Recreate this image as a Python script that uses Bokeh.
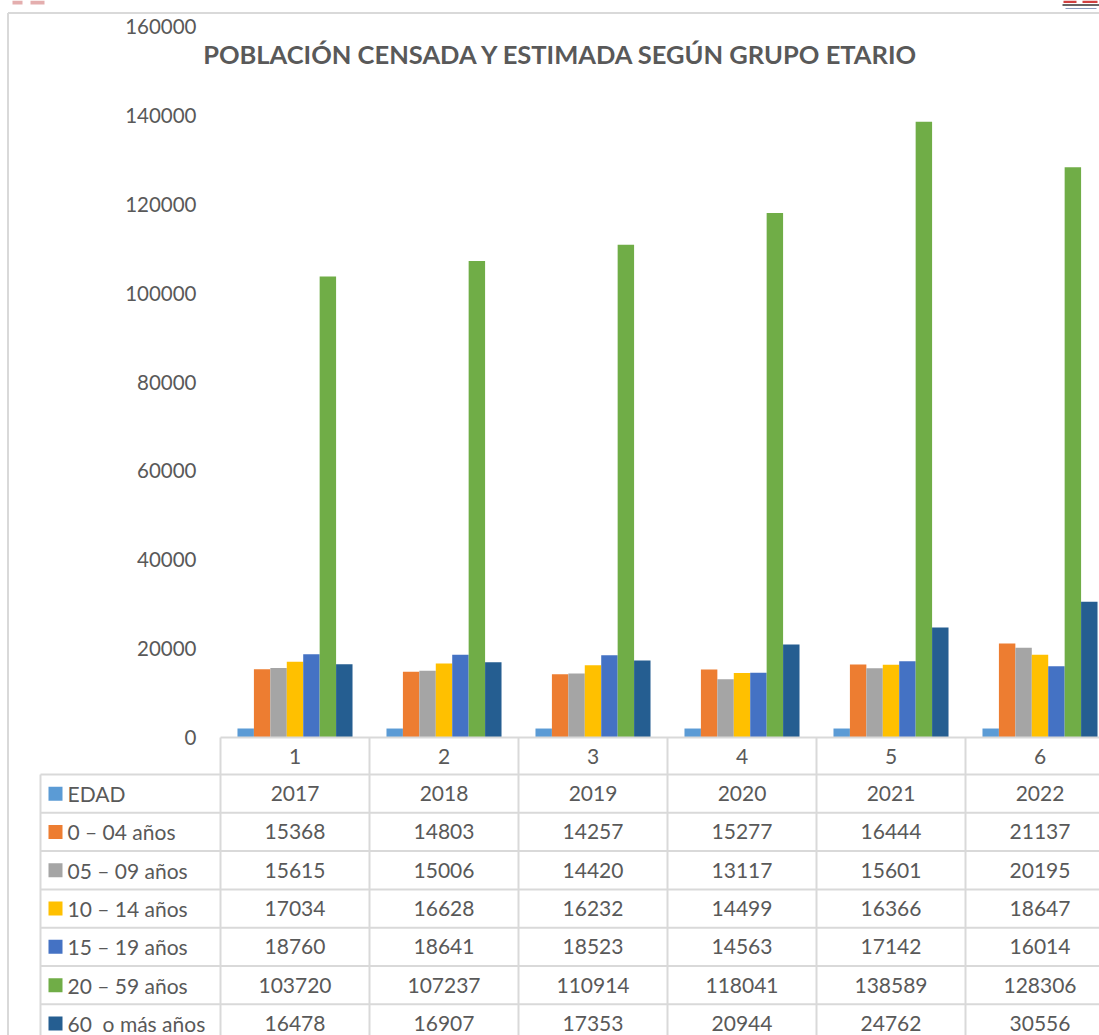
from bokeh.plotting import figure
from bokeh.models import Range1d
from bokeh.core.properties import value
from bokeh.embed import file_html
from bokeh.resources import INLINE

# ---------------- data ----------------
categories = ["1", "2", "3", "4", "5", "6"]
series_names = ["EDAD", "0 – 04 años", "05 – 09 años", "10 – 14 años",
                "15 – 19 años", "20 – 59 años", "60  o más años"]
edad = [2017, 2018, 2019, 2020, 2021, 2022]
g00_04 = [15368, 14803, 14257, 15277, 16444, 21137]
g05_09 = [15615, 15006, 14420, 13117, 15601, 20195]
g10_14 = [17034, 16628, 16232, 14499, 16366, 18647]
g15_19 = [18760, 18641, 18523, 14563, 17142, 16014]
g20_59 = [103720, 107237, 110914, 118041, 138589, 128306]
g60_mas = [16478, 16907, 17353, 20944, 24762, 30556]
y_ticks = [0, 20000, 40000, 60000, 80000, 100000, 120000, 140000, 160000]
title_text = "POBLACIÓN CENSADA Y ESTIMADA SEGÚN GRUPO ETARIO"

series_values = [edad, g00_04, g05_09, g10_14, g15_19, g20_59, g60_mas]
colors = ["#5B9BD5", "#ED7D31", "#A5A5A5", "#FFC000", "#4472C4", "#70AD47", "#255E91"]

# ---------------- layout (page pixels) ----------------
FONT = value("Lato")
TXT = "#595959"
GRID = "#D9D9D9"
PX0, PX1 = 0, 1099          # figure left/right on page
PY0, PY1 = 0, 1035          # figure top/bottom on page
PLOT_L = 220                 # left edge of category 1
CAT_W = 149                  # pixels per category
ZERO_Y = 737                 # page y of value 0
TOP_Y = 26                   # page y of value 160000
VMAX = 160000
per_px = VMAX / (ZERO_Y - TOP_Y)

x_start = 0.5 + (PX0 - PLOT_L) / CAT_W
x_end = 0.5 + (PX1 - PLOT_L) / CAT_W
y_end = (ZERO_Y - PY0) * per_px
y_start = -(PY1 - ZERO_Y) * per_px

p = figure(width=PX1 - PX0, height=PY1 - PY0,
           x_range=Range1d(x_start, x_end), y_range=Range1d(y_start, y_end),
           x_axis_location=None, y_axis_location=None,
           output_backend="svg", toolbar_location=None, min_border=0)
p.extra_x_ranges = {"px": Range1d(PX0, PX1)}
p.extra_y_ranges = {"px": Range1d(PY1, PY0)}
p.grid.visible = False
p.outline_line_color = None
p.background_fill_color = "white"
p.border_fill_color = "white"

xs = [i + 1 for i in range(len(categories))]
n = len(series_values)
bw = 0.1103
for k, (vals, col) in enumerate(zip(series_values, colors)):
    off = (k - (n - 1) / 2) * bw
    p.vbar(x=[x + off for x in xs], top=vals, bottom=0, width=bw,
           fill_color=col, line_color=None)

# chart border
p.segment(x0=[7.5, 7.5], y0=[12.5, 12.5], x1=[PX1, 7.5], y1=[12.5, PY1],
          x_range_name="px", y_range_name="px", line_color=GRID, line_width=2)

# page decorations (logo fragments at the top edge)
p.quad(left=[12, 30], right=[22, 44], top=[0, 0], bottom=[4, 4],
       x_range_name="px", y_range_name="px", fill_color="#D98C8C", line_color=None, fill_alpha=0.7)
p.quad(left=[1063, 1082], right=[1076, 1097], top=[0, 0], bottom=[2.5, 2.5],
       x_range_name="px", y_range_name="px", fill_color="#D04040", line_color=None)
p.segment(x0=[1062], y0=[4.5], x1=[PX1], y1=[4.5], x_range_name="px", y_range_name="px",
          line_color="#333333", line_width=1.5)
p.segment(x0=[1065], y0=[8], x1=[1096], y1=[8], x_range_name="px", y_range_name="px",
          line_color="#8899BB", line_width=1)

# y tick labels
p.text(x=[196] * len(y_ticks), y=[ZERO_Y - t / per_px for t in y_ticks],
       text=[str(t) for t in y_ticks], x_range_name="px", y_range_name="px",
       text_font=FONT, text_font_size="20.5px", text_color=TXT,
       text_align="right", text_baseline="middle")

# title
p.text(x=[561], y=[53], text=[title_text], x_range_name="px", y_range_name="px",
       text_font=FONT, text_font_style="bold", text_font_size="25.5px",
       text_color=TXT, text_align="center", text_baseline="middle")

# table grid
ROW0 = 774
ROW_H = 38.3
n_rows = len(series_names)
row_lines = [ROW0 + ROW_H * r for r in range(n_rows + 1)]
p.segment(x0=[PLOT_L], y0=[ZERO_Y], x1=[PX1], y1=[ZERO_Y],
          x_range_name="px", y_range_name="px", line_color=GRID, line_width=2)
p.segment(x0=[40] * len(row_lines), y0=row_lines, x1=[PX1] * len(row_lines), y1=row_lines,
          x_range_name="px", y_range_name="px", line_color=GRID, line_width=2)
p.segment(x0=[40], y0=[ROW0], x1=[40], y1=[PY1],
          x_range_name="px", y_range_name="px", line_color=GRID, line_width=2)
bounds = [x - 0.5 for x in xs]
p.segment(x0=bounds, y0=[0] * len(bounds), x1=bounds, y1=[y_start] * len(bounds),
          line_color=GRID, line_width=2)

# header row (category numbers)
p.text(x=xs, y=[-(756 - ZERO_Y) * per_px] * len(xs), text=categories,
       text_font=FONT, text_font_size="21px", text_color=TXT,
       text_align="center", text_baseline="middle")

# row labels with legend keys
centers = [ROW0 + ROW_H * (r + 0.5) for r in range(n_rows)]
p.scatter(x=[55] * n_rows, y=centers, marker="square", size=14, fill_color=colors,
          line_color=None, x_range_name="px", y_range_name="px")
p.text(x=[67] * n_rows, y=centers, text=[s.replace("  ", "\u00a0 ") for s in series_names],
       x_range_name="px", y_range_name="px",
       text_font=FONT, text_font_size="21px", text_color=TXT,
       text_align="left", text_baseline="middle")

# table values
for r, vals in enumerate(series_values):
    yv = -(centers[r] - ZERO_Y) * per_px
    p.text(x=xs, y=[yv] * len(xs), text=[str(v) for v in vals],
           text_font=FONT, text_font_size="21px", text_color=TXT,
           text_align="center", text_baseline="middle")

open("out.html", "w").write(file_html(p, INLINE))
